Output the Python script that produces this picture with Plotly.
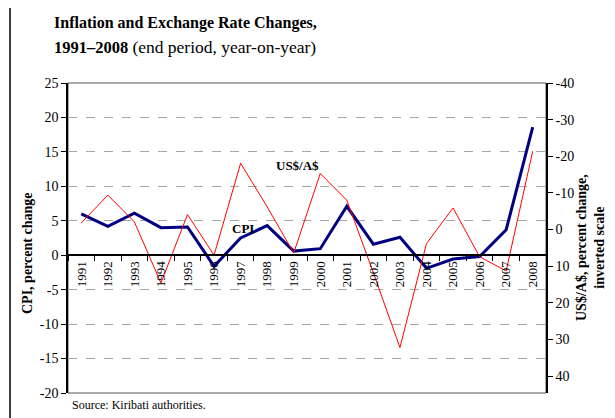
import plotly.graph_objects as go

years = [str(y) for y in range(1991, 2009)]
cpi = [6.0, 4.2, 6.1, 4.0, 4.1, -1.6, 2.5, 4.3, 0.6, 0.95, 7.1, 1.6, 2.6, -1.9, -0.55, -0.2, 3.7, 18.6]
usd_aud = [-1.8, -9.4, -2.1, 14.6, -4.1, 7.0, -18.1, -6.2, 6.4, -15.3, -8.0, 11.8, 32.2, 3.8, -5.9, 7.4, 11.3, -21.4]
left_ticks = [25, 20, 15, 10, 5, 0, -5, -10, -15, -20]
left_tick_text = ["25", "20", "15", "10", "5", "0", "-5", "-10", "-15", "-20"]
right_ticks = [-40, -30, -20, -10, 0, 10, 20, 30, 40]
right_tick_text = ["-40", "-30", "-20", "-10", "0", "10", "20", "30", "40"]

SERIF = "Liberation Serif, Times New Roman, serif"
# page body has an 8px default margin; figure is laid out in window coordinates
OFF = 8
W, H = 615 - OFF, 418 - OFF
L, R, T, B = 68 - OFF, 69, 83 - OFF, 25
PW, PH = W - L - R, H - T - B

def px(x):
    return (x - OFF - L) / PW

def py(y):
    return (H - B - (y - OFF)) / PH

fig = go.Figure()
fig.add_trace(go.Scatter(x=years, y=usd_aud, yaxis="y2", mode="lines",
                         line=dict(color="#FF0000", width=1), name="US$/A$"))
fig.add_trace(go.Scatter(x=years, y=cpi, yaxis="y", mode="lines",
                         line=dict(color="#000080", width=3), name="CPI"))

ymin, ymax = -20, 25
fig.update_layout(
    width=W, height=H,
    margin=dict(l=L, r=R, t=T, b=B),
    paper_bgcolor="white", plot_bgcolor="white",
    showlegend=False,
    font=dict(family=SERIF, size=14, color="black"),
    xaxis=dict(type="category", categoryorder="array", categoryarray=years,
               range=[-0.5, len(years) - 0.5],
               anchor="free", position=(0 - ymin) / (ymax - ymin),
               showline=True, linecolor="black", linewidth=1.5,
               ticks="outside", tickson="boundaries", ticklen=5, tickcolor="black",
               tickangle=-90, tickfont=dict(family=SERIF, size=13),
               showgrid=False, zeroline=False),
    yaxis=dict(range=[ymin, ymax], tickvals=left_ticks, ticktext=left_tick_text,
               showline=True, linecolor="black", linewidth=1.5,
               ticks="outside", ticklen=5, tickcolor="black",
               tickfont=dict(family=SERIF, size=14),
               showgrid=True, gridcolor="#A6A6A6", griddash="dash", gridwidth=1,
               zeroline=False),
    yaxis2=dict(overlaying="y", side="right", range=[44.6, -40],
                tickvals=right_ticks, ticktext=right_tick_text,
                showline=True, linecolor="black", linewidth=1.5,
                ticks="outside", ticklen=5, tickcolor="black",
                tickfont=dict(family=SERIF, size=14),
                showgrid=False, zeroline=False),
)

# plot-area box (top/bottom edges) and outer frame
fig.add_shape(type="rect", xref="paper", yref="paper", x0=0, x1=1, y0=0, y1=1,
              line=dict(color="#555555", width=1), layer="below")
fig.add_shape(type="rect", xref="paper", yref="paper",
              x0=px(10), x1=px(640), y0=py(440), y1=py(6),
              line=dict(color="black", width=1.5))

fig.add_annotation(xref="paper", yref="paper", x=px(52), y=py(23),
                   xanchor="left", yanchor="middle", align="left", showarrow=False,
                   text="<b>Inflation and Exchange Rate Changes,</b>",
                   font=dict(family=SERIF, size=16))
fig.add_annotation(xref="paper", yref="paper", x=px(52), y=py(47),
                   xanchor="left", yanchor="middle", align="left", showarrow=False,
                   text="<b>1991–2008</b> <span style='font-size:17.5px'>(end period, year-on-year)</span>",
                   font=dict(family=SERIF, size=16.5))
fig.add_annotation(xref="paper", yref="paper", x=px(27), y=py(254),
                   xanchor="center", yanchor="middle",
                   textangle=-90, showarrow=False,
                   text="<b>CPI, percent change</b>", font=dict(family=SERIF, size=14))
fig.add_annotation(xref="paper", yref="paper", x=px(590), y=py(248),
                   xanchor="center", yanchor="middle",
                   textangle=-90, showarrow=False,
                   text="<b>US$/A$, percent change,<br>inverted scale</b>",
                   font=dict(family=SERIF, size=14))
fig.add_annotation(xref="paper", yref="paper", x=px(297), y=py(165),
                   xanchor="center", yanchor="middle",
                   showarrow=False, text="<b>US$/A$</b>", font=dict(family=SERIF, size=13))
fig.add_annotation(xref="paper", yref="paper", x=px(243), y=py(228),
                   xanchor="center", yanchor="middle",
                   showarrow=False, text="<b>CPI</b>", font=dict(family=SERIF, size=13))
fig.add_annotation(xref="paper", yref="paper", x=px(70), y=py(405),
                   xanchor="left", yanchor="middle", showarrow=False,
                   text="Source: Kiribati authorities.", font=dict(family=SERIF, size=12))

fig.write_html("out.html")
